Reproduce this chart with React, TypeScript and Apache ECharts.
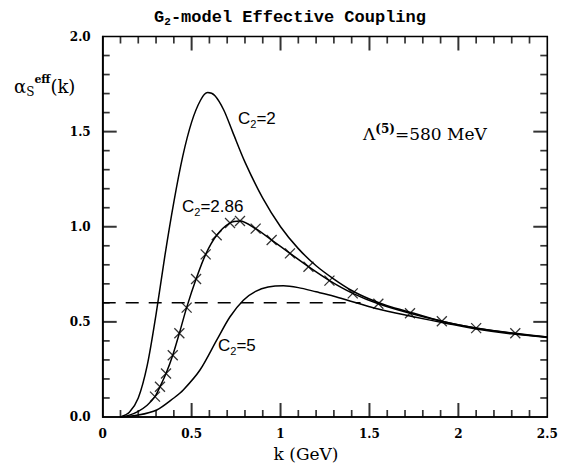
import React, { useEffect, useRef } from "react";
import * as echarts from "echarts";

// k (GeV) vs alpha_s^eff(k)
const curveC2_2: number[][] = [
  [0.1, 0.0], [0.15, 0.025], [0.2, 0.1], [0.25, 0.27], [0.3, 0.54], [0.35, 0.85],
  [0.4, 1.13], [0.45, 1.37], [0.5, 1.55], [0.55, 1.665], [0.59, 1.705], [0.63, 1.69],
  [0.68, 1.615], [0.73, 1.5], [0.8, 1.34], [0.9, 1.15], [1.0, 1.0], [1.1, 0.885],
  [1.2, 0.795], [1.3, 0.725], [1.4, 0.665], [1.5, 0.62], [1.6, 0.585], [1.75, 0.545],
  [1.9, 0.505], [2.1, 0.468], [2.3, 0.44], [2.5, 0.42],
];

const marksC2_286: number[][] = [
  [0.294, 0.107], [0.322, 0.159], [0.356, 0.229], [0.394, 0.325], [0.431, 0.44],
  [0.472, 0.575], [0.525, 0.725], [0.579, 0.855], [0.641, 0.955], [0.716, 1.02],
  [0.772, 1.03], [0.86, 0.99], [0.95, 0.93], [1.053, 0.86], [1.157, 0.79],
  [1.275, 0.717], [1.406, 0.65], [1.55, 0.595], [1.728, 0.545], [1.907, 0.503],
  [2.1, 0.467], [2.32, 0.44],
];

const curveC2_286: number[][] = [
  [0.1, 0.0], [0.15, 0.01], [0.2, 0.03], [0.25, 0.062], ...marksC2_286, [2.5, 0.42],
];

const curveC2_5: number[][] = [
  [0.1, 0.0], [0.2, 0.01], [0.304, 0.037], [0.4, 0.1], [0.453, 0.142], [0.547, 0.247],
  [0.641, 0.404], [0.716, 0.527], [0.791, 0.614], [0.86, 0.66], [0.93, 0.683],
  [1.016, 0.69], [1.1, 0.68], [1.2, 0.658], [1.3, 0.635], [1.39, 0.61], [1.5, 0.58],
  [1.56, 0.565], [1.747, 0.527], [1.935, 0.492], [2.1, 0.463], [2.3, 0.437], [2.5, 0.418],
];

const dashedLine: number[][] = [[0, 0.6], [1.45, 0.6]];

const xRange = [0, 2.5];
const yRange = [0, 2.0];

const xMajorTicks = [0.5, 1, 1.5, 2];
const xMinorTicks = [
  0.1, 0.2, 0.3, 0.4, 0.6, 0.7, 0.8, 0.9, 1.1, 1.2, 1.3, 1.4,
  1.6, 1.7, 1.8, 1.9, 2.1, 2.2, 2.3, 2.4,
];
const yMajorTicks = [0.5, 1, 1.5];
const yMinorTicks = [
  0.1, 0.2, 0.3, 0.4, 0.6, 0.7, 0.8, 0.9, 1.1, 1.2, 1.3, 1.4, 1.6, 1.7, 1.8, 1.9,
];

const serif = "DejaVu Serif";
const sans = "Liberation Sans";

const MAJOR = 14;
const MINOR = 7;
const TW_MAJOR = 2;
const TW_MINOR = 1.7;

function tickSeries(data: number[][], size: number[], offset: number[]) {
  return {
    type: "scatter",
    data,
    symbol: "rect",
    symbolSize: size,
    symbolOffset: offset,
    itemStyle: { color: "#000" },
    clip: false,
  };
}

export default function App() {
  const ref = useRef<HTMLDivElement>(null);
  useEffect(() => {
    document.body.style.margin = "0";
    const chart = echarts.init(ref.current!, null, { renderer: "svg" });
    const lineStyle = { color: "#000", width: 1.5 };
    const sub = { fontSize: 11, verticalAlign: "bottom", lineHeight: 11 };
    chart.setOption({
      animation: false,
      backgroundColor: "#fff",
      grid: {
        left: 102.7,
        right: 17.7,
        top: 36.5,
        bottom: 51,
        show: true,
        borderColor: "#000",
        borderWidth: 1.6,
        backgroundColor: "transparent",
      },
      xAxis: {
        type: "value",
        min: xRange[0],
        max: xRange[1],
        interval: 0.5,
        position: "bottom",
        axisLine: { show: true, lineStyle: { color: "#000", width: 1.6 } },
        axisTick: { show: false },
        splitLine: { show: false },
        axisLabel: {
          color: "#000",
          fontFamily: serif,
          fontWeight: "bold",
          fontSize: 12,
          margin: 11,
        },
      },
      yAxis: {
        type: "value",
        min: yRange[0],
        max: yRange[1],
        interval: 0.5,
        position: "left",
        axisLine: { show: true, lineStyle: { color: "#000", width: 1.6 } },
        axisTick: { show: false },
        splitLine: { show: false },
        axisLabel: {
          color: "#000",
          fontFamily: serif,
          fontWeight: "bold",
          fontSize: 12,
          margin: 12,
          formatter: (v: number) => v.toFixed(1),
        },
      },
      series: [
        tickSeries(xMajorTicks.map((v) => [v, yRange[0]]), [TW_MAJOR, MAJOR], [0, -MAJOR / 2]),
        tickSeries(xMajorTicks.map((v) => [v, yRange[1]]), [TW_MAJOR, MAJOR], [0, MAJOR / 2]),
        tickSeries(xMinorTicks.map((v) => [v, yRange[0]]), [TW_MINOR, MINOR], [0, -MINOR / 2]),
        tickSeries(xMinorTicks.map((v) => [v, yRange[1]]), [TW_MINOR, MINOR], [0, MINOR / 2]),
        tickSeries(yMajorTicks.map((v) => [xRange[0], v]), [MAJOR, TW_MAJOR], [MAJOR / 2, 0]),
        tickSeries(yMajorTicks.map((v) => [xRange[1], v]), [MAJOR, TW_MAJOR], [-MAJOR / 2, 0]),
        tickSeries(yMinorTicks.map((v) => [xRange[0], v]), [MINOR, TW_MINOR], [MINOR / 2, 0]),
        tickSeries(yMinorTicks.map((v) => [xRange[1], v]), [MINOR, TW_MINOR], [-MINOR / 2, 0]),
        { type: "line", data: curveC2_2, smooth: 0.3, showSymbol: false, lineStyle },
        { type: "line", data: curveC2_286, smooth: 0.3, showSymbol: false, lineStyle },
        {
          type: "scatter",
          data: marksC2_286,
          symbol: "path://M0 0L10 10M10 0L0 10",
          symbolSize: 10,
          itemStyle: { color: "none", borderColor: "#000", borderWidth: 1.3 },
        },
        { type: "line", data: curveC2_5, smooth: 0.3, showSymbol: false, lineStyle },
        {
          type: "line",
          data: dashedLine,
          showSymbol: false,
          lineStyle: { color: "#000", width: 1.5, type: [13, 10] },
        },
      ],
      graphic: [
        {
          type: "text",
          x: 290,
          y: 17,
          style: {
            text: "G{s|2}-model Effective Coupling",
            fontFamily: "Liberation Mono",
            fontWeight: "bold",
            fontSize: 17,
            fill: "#000",
            align: "center",
            verticalAlign: "middle",
            lineHeight: 20,
            rich: { s: { ...sub, fontFamily: "Liberation Mono", fontWeight: "bold" } },
          },
        },
        {
          type: "text",
          x: 14,
          y: 86,
          style: {
            text: "α{s|S}{p|eff}(k)",
            fontFamily: serif,
            fontSize: 18,
            fill: "#000",
            align: "left",
            verticalAlign: "middle",
            lineHeight: 24,
            rich: {
              s: { fontSize: 12, fontFamily: serif, verticalAlign: "bottom", lineHeight: 12 },
              p: { fontSize: 11, fontFamily: serif, fontWeight: "bold", verticalAlign: "top", lineHeight: 11 },
            },
          },
        },
        {
          type: "text",
          x: 306,
          y: 454,
          style: {
            text: "k (GeV)",
            fontFamily: serif,
            fontSize: 17,
            fill: "#000",
            align: "center",
            verticalAlign: "middle",
          },
        },
        {
          type: "text",
          x: 238,
          y: 118,
          style: {
            text: "C{s|2}=2",
            fontFamily: sans,
            fontSize: 17,
            fill: "#000",
            align: "left",
            verticalAlign: "middle",
            lineHeight: 22,
            rich: { s: { ...sub, fontFamily: sans } },
          },
        },
        {
          type: "text",
          x: 182,
          y: 206,
          style: {
            text: "C{s|2}=2.86",
            fontFamily: sans,
            fontSize: 17,
            fill: "#000",
            align: "left",
            verticalAlign: "middle",
            lineHeight: 22,
            rich: { s: { ...sub, fontFamily: sans } },
          },
        },
        {
          type: "text",
          x: 218,
          y: 345,
          style: {
            text: "C{s|2}=5",
            fontFamily: sans,
            fontSize: 17,
            fill: "#000",
            align: "left",
            verticalAlign: "middle",
            lineHeight: 22,
            rich: { s: { ...sub, fontFamily: sans } },
          },
        },
        {
          type: "text",
          x: 363,
          y: 134,
          style: {
            text: "Λ{p|(5)}=580 MeV",
            fontFamily: serif,
            fontSize: 17,
            fill: "#000",
            align: "left",
            verticalAlign: "middle",
            lineHeight: 22,
            rich: { p: { fontSize: 12, fontFamily: serif, fontWeight: "bold", verticalAlign: "top", lineHeight: 12 } },
          },
        },
      ],
    });
    return () => chart.dispose();
  }, []);
  return <div ref={ref} style={{ width: 565, height: 468 }} />;
}
